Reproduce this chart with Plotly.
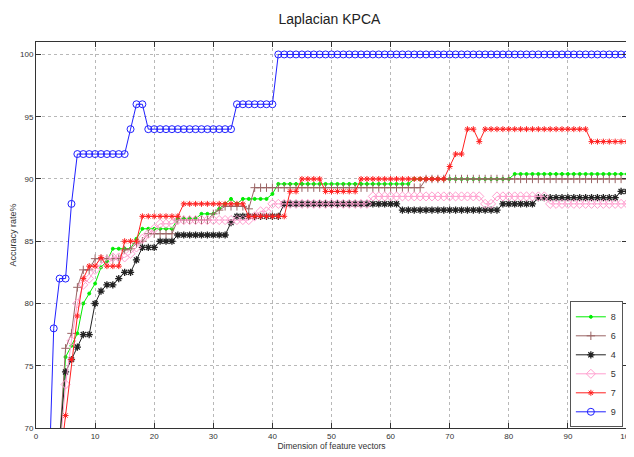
import plotly.graph_objects as go

# ---------------- data ----------------
x_blue = list(range(2, 101))
x_rest = list(range(4, 101))

s9 = [63, 78, 82, 82, 88,
      92, 92, 92, 92, 92, 92, 92, 92, 92,
      94, 96, 96,
      94, 94, 94, 94, 94, 94, 94, 94, 94, 94, 94, 94, 94, 94, 94,
      96, 96, 96, 96, 96, 96, 96,
      100, 100, 100, 100, 100, 100, 100, 100, 100, 100,
      100, 100, 100, 100, 100, 100, 100, 100, 100, 100,
      100, 100, 100, 100, 100, 100, 100, 100, 100, 100,
      100, 100, 100, 100, 100, 100, 100, 100, 100, 100,
      100, 100, 100, 100, 100, 100, 100, 100, 100, 100,
      100, 100, 100, 100, 100, 100, 100, 100, 100, 100]

s8 = [68, 75.7, 76.6, 77.6, 80, 80.8, 81.6, 82.9, 83.4,
      84.4, 84.4, 84.4, 84.4, 85.2,
      86, 86, 86, 86, 86, 86,
      86.8, 86.8, 86.8, 86.8,
      87.2, 87.2, 87.2, 87.6, 88, 88.4, 88,
      88.4, 88.4, 88.4, 88.4, 88.4, 88.8,
      89.6, 89.6, 89.6, 89.6, 89.6, 89.6, 89.6, 89.6, 89.6, 89.6,
      89.6, 89.6, 89.6, 89.6, 89.6, 89.6, 89.6, 89.6, 89.6, 89.6,
      89.6, 89.6, 89.6,
      90, 90, 90, 90, 90, 90, 90, 90, 90, 90,
      90, 90, 90, 90, 90, 90, 90,
      90.4, 90.4, 90.4, 90.4, 90.4, 90.4, 90.4, 90.4, 90.4, 90.4,
      90.4, 90.4, 90.4, 90.4, 90.4, 90.4, 90.4, 90.4, 90.4, 90.4]

s6 = [69, 76.4, 77.6, 81.3, 82.7, 82.7, 83.6, 83.6, 83.6, 83.6, 83.6,
      84.3, 84.4, 84.8, 85,
      85.6, 85.6, 85.6, 85.6, 85.6,
      86.7, 86.7, 86.7, 86.7, 86.7, 86.7,
      87.2, 87.5, 87.8, 87.8, 87.8, 87.8, 87.6,
      89.3, 89.3, 89.3, 89.3, 89.3, 89.3, 89.3, 89.3, 89.3, 89.3,
      89.3, 89.3, 89.3, 89.3, 89.3, 89.3, 89.3, 89.3, 89.3, 89.3,
      89.3, 89.3, 89.3, 89.3, 89.3, 89.3, 89.3, 89.3, 89.3,
      90, 90, 90, 90, 90, 90, 90, 90, 90, 90,
      90, 90, 90, 90, 90, 90, 90, 90, 90, 90,
      90, 90, 90, 90, 90, 90, 90, 90, 90, 90,
      90, 90, 90, 90, 90]

s4 = [69, 74.5, 75.5, 76.5, 77.5, 77.5, 80, 81, 81.5, 81.5, 82, 82.5, 82.5, 83.5,
      84.5, 84.5, 84.5, 85, 85, 85,
      85.5, 85.5, 85.5, 85.5, 85.5, 85.5, 85.5, 85.5, 85.5,
      86.5, 87, 87, 87, 87, 87, 87, 87, 87,
      88, 88, 88, 88, 88, 88, 88, 88, 88, 88,
      88, 88, 88, 88, 88, 88, 88, 88, 88, 88,
      87.5, 87.5, 87.5, 87.5, 87.5, 87.5, 87.5, 87.5, 87.5, 87.5,
      87.5, 87.5, 87.5, 87.5, 87.5, 87.5, 87.5,
      88, 88, 88, 88, 88, 88,
      88.5, 88.5, 88.5, 88.5, 88.5, 88.5, 88.5, 88.5, 88.5, 88.5,
      88.5, 88.5, 88.5, 88.5,
      89, 89]

s5 = [68, 73.5, 77, 80, 81.5, 82, 82.7, 83.2, 83.5, 83.7, 83.7, 83.7, 84, 84.5,
      85.2, 85.6, 86, 86.4, 86.4, 86.4,
      86.7, 86.7, 86.7, 86.7, 86.7, 86.7, 86.7, 86.7, 86.7, 86.7, 86.7, 86.7, 86.7,
      87, 87.4, 87.4,
      88, 88, 88, 88, 88, 88, 88, 88, 88, 88, 88, 88, 88, 88, 88, 88, 88,
      88.6, 88.6, 88.6, 88.6, 88.6, 88.6, 88.6, 88.6, 88.6, 88.6,
      88.6, 88.6, 88.6, 88.6, 88.6, 88.6, 88.6, 88.6, 88.6,
      88, 88,
      88.6, 88.6, 88.6, 88.6, 88.6, 88.6, 88.6, 88.6, 88.6,
      88, 88, 88, 88, 88, 88, 88, 88, 88, 88, 88, 88, 88, 88]

s7 = [67, 71, 75.5, 79, 82, 83, 83, 83.7, 83, 83, 83,
      85, 85, 85,
      87, 87, 87, 87, 87, 87, 87,
      88, 88, 88, 88, 88, 88, 88, 88, 88, 88, 88,
      87, 87, 87, 87, 87, 87, 87,
      89, 89, 90, 90, 90, 90,
      89, 89, 89, 89, 89, 89,
      90, 90, 90, 90, 90, 90, 90, 90, 90, 90, 90, 90, 90, 90, 90,
      91, 92, 92, 94, 94, 93,
      94, 94, 94, 94, 94, 94, 94, 94, 94, 94,
      94, 94, 94, 94, 94, 94, 94, 94,
      93, 93, 93, 93, 93, 93, 93]

x_ticks = [0, 10, 20, 30, 40, 50, 60, 70, 80, 90, 100]
y_ticks = [70, 75, 80, 85, 90, 95, 100]

FONT = "Liberation Sans, Arial, Helvetica, sans-serif"

series = [
    ("8", x_rest, s8, "#00ee00", "circle", 3, 1),
    ("6", x_rest, s6, "#9a6464", "cross-thin-open", 6, 1),
    ("4", x_rest, s4, "#222222", "asterisk-open", 6, 1.3),
    ("5", x_rest, s5, "#ff9fcf", "diamond-open", 7, 1),
    ("7", x_rest, s7, "#ff2020", "asterisk-open", 5, 1),
    ("9", x_blue, s9, "#2020ff", "circle-open", 7, 1),
]

fig = go.Figure()
for name, xs, ys, col, sym, size, lw in series:
    fig.add_trace(go.Scatter(
        x=xs, y=ys, name=name, mode="lines+markers",
        line=dict(color=col, width=1),
        marker=dict(symbol=sym, size=size, color=col,
                    line=dict(color=col, width=lw)),
        cliponaxis=True,
    ))

# the page body adds an 8px offset; plot area is placed to match the reference
fig.update_layout(
    width=634, height=449,
    margin=dict(l=28, r=15, t=34, b=29, autoexpand=False),
    paper_bgcolor="white", plot_bgcolor="white",
    title=dict(text="Laplacian KPCA", x=0.507, xanchor="center",
               y=0.976, yanchor="middle", yref="container",
               font=dict(family=FONT, size=14, color="#222222")),
    showlegend=True,
    legend=dict(x=0.993, y=0.165, xanchor="right", yanchor="middle",
                bordercolor="#555555", borderwidth=1, bgcolor="white",
                font=dict(family=FONT, size=9, color="#333333"),
                itemwidth=30, tracegroupgap=0),
)

fig.update_xaxes(
    range=[0, 100], tickvals=x_ticks, ticktext=[str(v) for v in x_ticks],
    showline=True, linecolor="#333333", linewidth=1, mirror="ticks",
    ticks="inside", ticklen=5, tickcolor="#333333",
    showgrid=True, gridcolor="#b8b8b8", griddash="dot", gridwidth=1,
    zeroline=False, automargin=False, ticklabeloverflow="allow",
    tickfont=dict(family=FONT, size=8, color="#333333"),
    title=dict(text="Dimension of feature vectors", standoff=2,
               font=dict(family=FONT, size=8.5, color="#333333")),
)
fig.update_yaxes(
    range=[70, 101], tickvals=y_ticks, ticktext=[str(v) for v in y_ticks],
    showline=True, linecolor="#333333", linewidth=1, mirror="ticks",
    ticks="inside", ticklen=5, tickcolor="#333333",
    showgrid=True, gridcolor="#b8b8b8", griddash="dot", gridwidth=1,
    zeroline=False, automargin=False,
    tickfont=dict(family=FONT, size=8, color="#333333"),
    title=dict(text="Accuracy rate%", standoff=3,
               font=dict(family=FONT, size=9, color="#333333")),
)

fig.write_html("out.html")
